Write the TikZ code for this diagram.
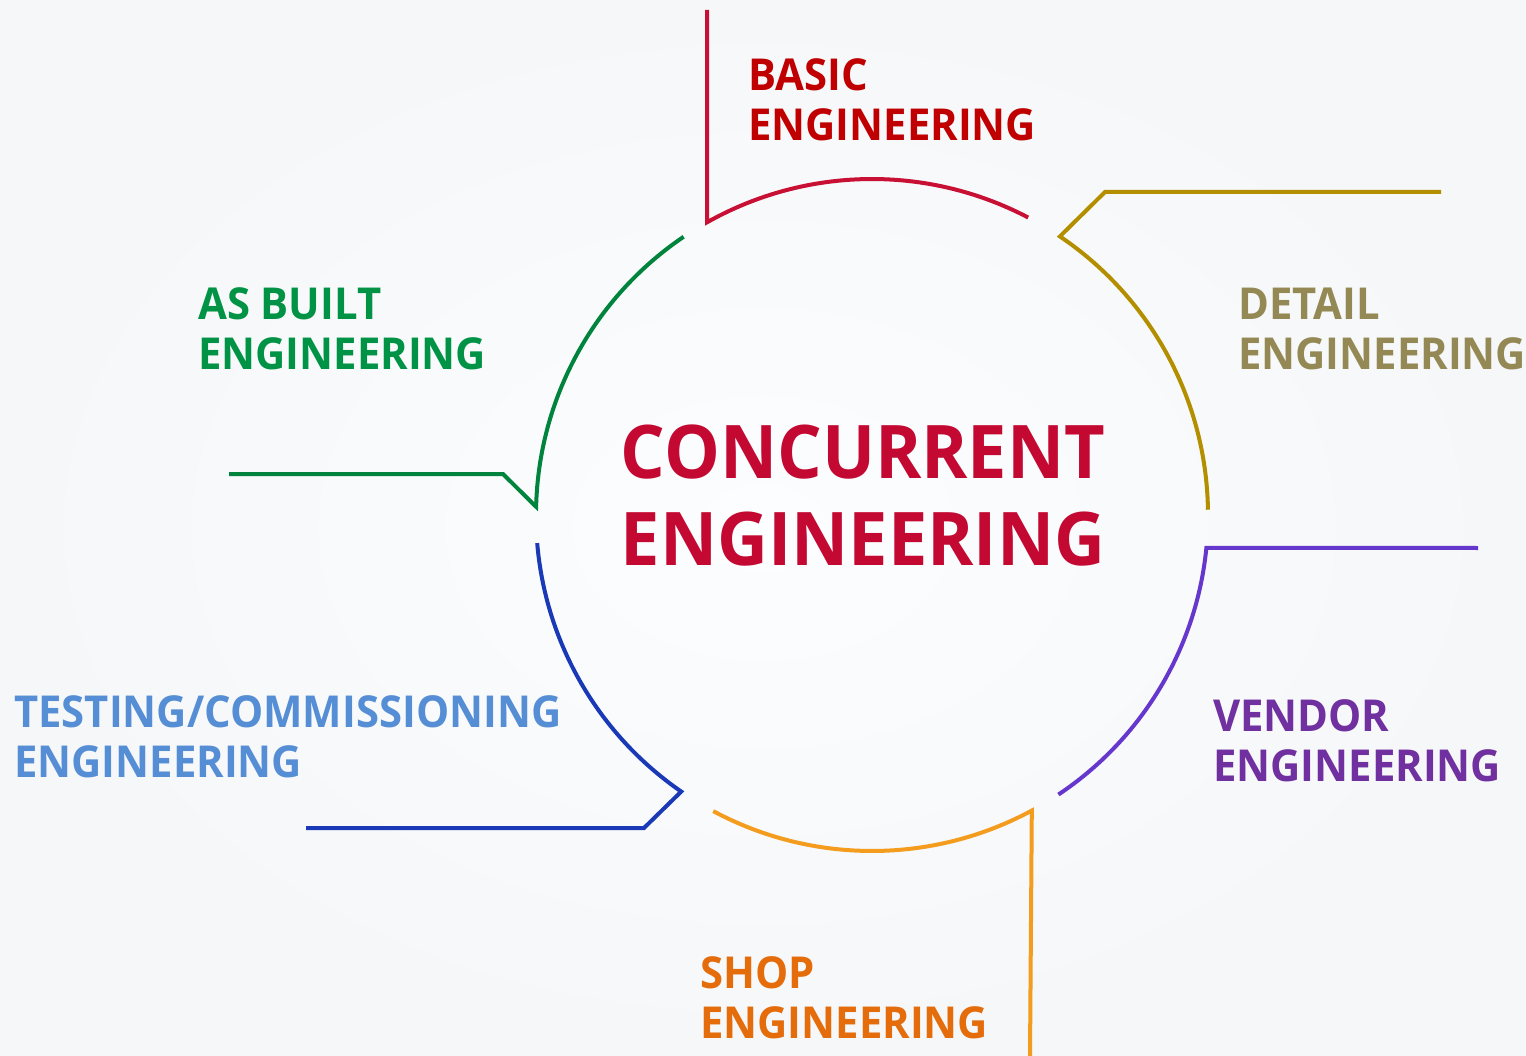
\documentclass[tikz,border=0pt]{standalone}
\usepackage{fontspec}
\setmainfont{Open Sans}[FakeStretch=0.95]
\usepackage{xcolor}
\usepackage{tikz}

\definecolor{basictxt}{RGB}{192,0,0}
\definecolor{basicln}{RGB}{200,16,52}
\definecolor{centertxt}{RGB}{195,8,50}
\definecolor{detailtxt}{RGB}{148,137,84}
\definecolor{detailln}{RGB}{179,143,0}
\definecolor{vendortxt}{RGB}{112,48,160}
\definecolor{vendorln}{RGB}{102,55,204}
\definecolor{shoptxt}{RGB}{228,108,10}
\definecolor{shopln}{RGB}{243,156,30}
\definecolor{testtxt}{RGB}{85,142,213}
\definecolor{testln}{RGB}{25,57,183}
\definecolor{builttxt}{RGB}{0,146,69}
\definecolor{builtln}{RGB}{0,132,61}

\tikzset{
	phase/.style={anchor=base west, align=left, inner sep=0pt, font=\fontsize{44}{50}\selectfont\bfseries},
	ring/.style={line width=4pt, line join=miter},
}

\begin{document}
\begin{tikzpicture}[x=1pt,y=-1pt]
	\useasboundingbox (0,0) rectangle (1526,1056);
	\shade[inner color={rgb,255:red,252;green,253;blue,254}, outer color={rgb,255:red,245;green,247;blue,249}] (0,0) rectangle (1526,1056);
	\coordinate (o) at (872,515);
	\node[anchor=base, align=center, inner sep=0pt, text=centertxt, font=\fontsize{74}{87}\selectfont\bfseries] (cen) at (863,565) {CONCURRENT\\ENGINEERING};
	% labels
	\node[phase, text=basictxt] (basic) at (748,141) {BASIC\\ENGINEERING};
	\node[phase, text=detailtxt] (detail) at (1238,370) {DETAIL\\ENGINEERING};
	\node[phase, text=vendortxt] (vendor) at (1213,781) {VENDOR\\ENGINEERING};
	\node[phase, text=shoptxt] (shop) at (700,1038) {SHOP\\ENGINEERING};
	\node[phase, text=testtxt] (test) at (14,777) {TESTING/COMMISSIONING\\ENGINEERING};
	\node[phase, text=builttxt] (built) at (198,370) {AS BUILT\\ENGINEERING};
	% arc ends
	\path (o) ++(-119.4:336) coordinate (b1) (o) ++(-62.3:336) coordinate (b2);
	\path (o) ++(-56:336) coordinate (d1) (o) ++(-0.9:336) coordinate (d2);
	\path (o) ++(5.6:336) coordinate (v1) (o) ++(56.3:336) coordinate (v2);
	\path (o) ++(118.2:336) coordinate (s1) (o) ++(61.6:336) coordinate (s2);
	\path (o) ++(175.2:336) coordinate (t1) (o) ++(124.6:336) coordinate (t2);
	\path (o) ++(235.9:336) coordinate (a1) (o) ++(181.4:336) coordinate (a2);
	\coordinate (btop) at (707,10);
	\coordinate (dk) at (1105,192);
	\coordinate (dend) at (1441,192);
	\coordinate (vend) at (1478,548);
	\coordinate (sbot) at (1030,1056);
	\coordinate (tk) at (644,828);
	\coordinate (tend) at (306,828);
	\coordinate (ak) at (503,474);
	\coordinate (aend) at (229,474);
	% arcs and leaders
	\draw[ring, basicln] (btop) -- (b1) arc[start angle=-119.4, end angle=-62.3, radius=336];
	\draw[ring, detailln] (dend) -- (dk) -- (d1) arc[start angle=-56, end angle=-0.9, radius=336];
	\draw[ring, vendorln] (vend) -- (v1) arc[start angle=5.6, end angle=56.3, radius=336];
	\draw[ring, shopln] (s1) arc[start angle=118.2, end angle=61.6, radius=336] -- (sbot);
	\draw[ring, testln] (t1) arc[start angle=175.2, end angle=124.6, radius=336] -- (tk) -- (tend);
	\draw[ring, builtln] (a1) arc[start angle=235.9, end angle=181.4, radius=336] -- (ak) -- (aend);
\end{tikzpicture}
\end{document}
